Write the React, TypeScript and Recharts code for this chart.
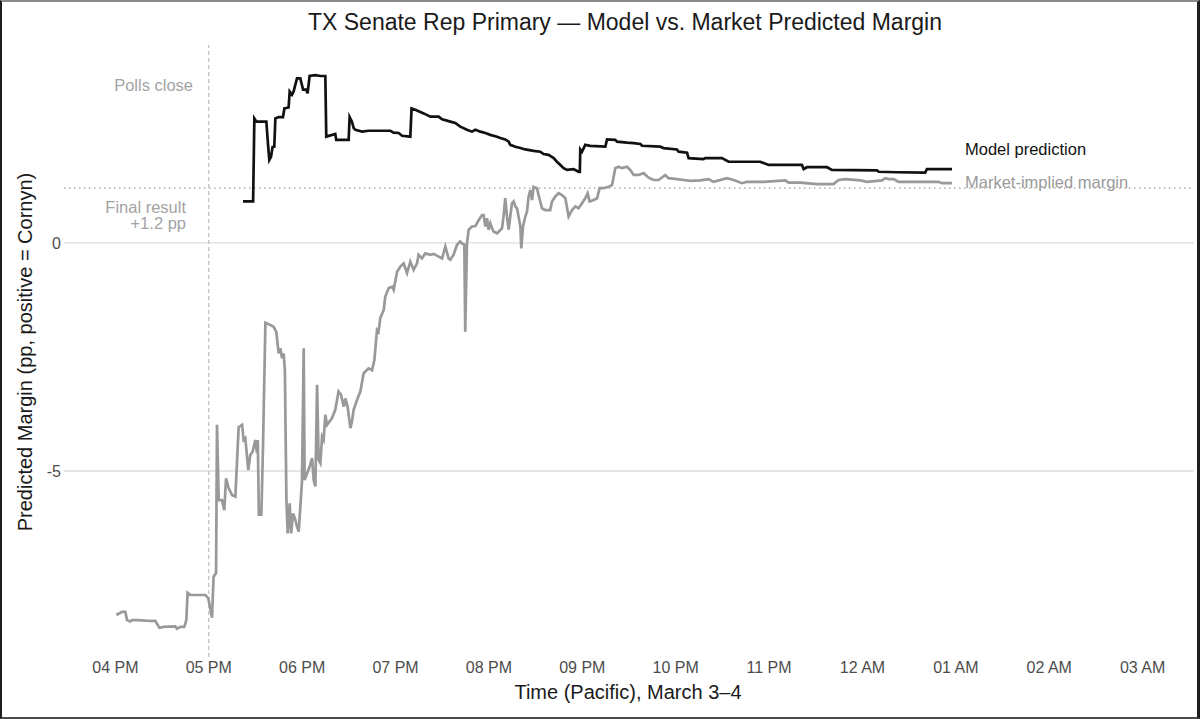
import React from "react";
import { LineChart, Line, XAxis, YAxis, ReferenceLine } from "recharts";

const FONT = "'Liberation Sans', Arial, Helvetica, sans-serif";

// x: minutes after 4:00 PM Pacific (March 3)
const hourTicks = [0, 60, 120, 180, 240, 300, 360, 420, 480, 540, 600, 660];
const hourLabels = ["04 PM", "05 PM", "06 PM", "07 PM", "08 PM", "09 PM", "10 PM", "11 PM", "12 AM", "01 AM", "02 AM", "03 AM"];
const xDomain = [-33, 693];

const yTicks = [-5, 0];
const yTickLabels = ["-5", "0"];
const yDomain = [-9.08, 4.34];

const pollsCloseMinute = 60;
const finalResult = 1.2;

const marketTime = [
  0.6, 4.3, 6.4, 7.5, 9.6, 10.7, 14.8, 22.5, 25.7, 28.3, 30.8, 38.5, 39.6, 41.8, 44.3, 45.6, 46.4, 48.2, 57.8, 59.7,
  62.1, 63.1, 64.7, 65.3, 66.4, 68.5, 70.0, 71.1, 72.8, 75.0, 77.1, 79.2, 81.4, 82.4, 83.5, 85.4, 86.7, 88.2, 89.9, 91.0,
  91.5, 92.2, 93.8, 94.9, 96.4, 98.5, 101.7, 103.4, 104.9, 106.0, 107.1, 108.1, 108.9, 109.9, 110.7, 112.0, 112.9, 114.2, 115.6, 116.7,
  117.8, 119.9, 121.0, 121.6, 123.2, 124.8, 126.4, 127.4, 128.5, 129.6, 130.6, 131.7, 132.8, 133.8, 134.9, 136.0, 139.2, 141.3, 143.4, 145.0,
  146.7, 147.8, 149.2, 151.0, 152.0, 153.1, 155.3, 157.4, 159.5, 160.6, 162.7, 164.9, 166.4, 168.1, 169.1, 170.2, 172.4, 173.4, 175.6, 177.8,
  178.8, 181.0, 183.1, 185.2, 187.4, 189.5, 191.6, 193.8, 194.8, 197.0, 199.1, 202.4, 204.5, 207.7, 209.9, 212.0, 214.1, 215.2, 217.3, 219.5,
  221.6, 222.7, 224.2, 224.8, 225.9, 227.0, 229.1, 231.3, 233.4, 235.6, 236.6, 237.7, 238.8, 239.8, 240.9, 242.0, 243.0, 245.2, 248.4, 249.4,
  250.5, 251.6, 252.7, 253.7, 254.8, 255.9, 257.0, 258.1, 260.2, 260.8, 261.9, 263.4, 264.5, 265.5, 266.6, 267.7, 268.7, 270.9, 271.9, 274.1,
  276.2, 279.4, 280.5, 282.7, 284.8, 287.0, 289.1, 291.2, 293.4, 295.5, 297.6, 299.8, 301.9, 303.4, 304.7, 307.3, 309.5, 311.1, 313.7, 316.9,
  319.1, 321.2, 323.3, 325.5, 328.7, 330.8, 333.0, 336.2, 339.4, 342.6, 345.8, 349.0, 353.3, 355.4, 360.8, 365.1, 369.4, 375.8, 381.1, 384.3,
  392.9, 397.2, 402.6, 405.8, 416.5, 430.4, 432.5, 440.0, 450.8, 461.4, 464.6, 468.9, 478.6, 482.9, 492.5, 494.7, 496.8, 500.0, 503.2, 528.9,
  531.1, 537.5,
];
const marketMargin = [
  -8.16, -8.09, -8.09, -8.27, -8.30, -8.27, -8.27, -8.29, -8.29, -8.44, -8.42, -8.41, -8.46, -8.42, -8.42, -8.27, -7.67, -7.72, -7.72, -7.79,
  -8.22, -7.32, -7.24, -3.99, -5.64, -5.64, -5.86, -5.16, -5.38, -5.53, -5.56, -4.04, -3.99, -4.32, -4.28, -4.98, -4.65, -4.58, -4.32, -4.61,
  -4.32, -5.96, -5.96, -4.39, -1.75, -1.78, -1.84, -1.95, -2.42, -2.31, -2.53, -2.42, -2.79, -5.64, -6.37, -5.71, -6.37, -5.93, -6.07, -6.22,
  -6.33, -5.23, -2.31, -5.20, -5.05, -4.91, -4.72, -5.20, -5.34, -3.11, -4.76, -4.83, -4.25, -4.32, -3.77, -3.99, -3.84, -3.66, -3.26, -3.33,
  -3.59, -3.41, -3.59, -4.06, -3.92, -3.66, -3.44, -3.26, -2.86, -2.82, -2.75, -2.79, -2.57, -1.91, -1.95, -1.65, -1.47, -1.18, -0.99, -0.96,
  -1.03, -0.63, -0.52, -0.45, -0.66, -0.41, -0.59, -0.45, -0.26, -0.34, -0.23, -0.26, -0.24, -0.30, -0.34, -0.08, -0.34, -0.37, -0.26, -0.04,
  0.03, -0.01, -0.04, -1.95, -0.01, 0.29, 0.36, 0.37, 0.50, 0.61, 0.61, 0.36, 0.54, 0.29, 0.43, 0.32, 0.25, 0.21, 0.32, 0.58,
  0.98, 0.58, 0.29, 0.58, 0.87, 0.91, 0.80, 0.76, 0.36, -0.12, 0.36, 0.58, 0.69, 1.02, 1.16, 0.94, 1.23, 1.20, 1.05, 0.76,
  0.72, 0.72, 0.91, 1.02, 1.09, 1.05, 0.98, 0.58, 0.72, 0.80, 0.76, 0.87, 0.98, 1.09, 0.91, 0.94, 0.98, 1.20, 1.20, 1.23,
  1.27, 1.64, 1.67, 1.64, 1.67, 1.60, 1.49, 1.49, 1.53, 1.43, 1.38, 1.38, 1.49, 1.42, 1.40, 1.38, 1.36, 1.37, 1.40, 1.34,
  1.42, 1.38, 1.31, 1.34, 1.34, 1.37, 1.32, 1.32, 1.29, 1.29, 1.38, 1.40, 1.37, 1.34, 1.37, 1.42, 1.40, 1.40, 1.34, 1.34,
  1.31, 1.31,
];

const modelTime = [
  82.0, 88.5, 89.3, 90.6, 97.0, 98.1, 98.9, 100.0, 101.0, 102.1, 102.8, 104.9, 107.7, 108.6, 111.3, 112.0, 113.5, 114.5, 116.7, 118.8,
  120.6, 122.7, 123.5, 124.8, 128.5, 131.7, 134.9, 135.5, 141.3, 141.9, 149.9, 150.5, 152.0, 153.1, 154.2, 158.5, 162.7, 176.7, 178.8, 182.0,
  184.2, 189.5, 190.3, 192.7, 198.1, 202.4, 207.7, 209.9, 215.2, 218.4, 221.6, 225.9, 229.1, 231.3, 234.5, 237.7, 240.9, 245.2, 247.3, 250.5,
  252.7, 253.7, 257.0, 260.2, 263.4, 268.7, 273.0, 275.1, 278.3, 281.6, 283.7, 285.9, 288.0, 290.2, 294.4, 297.6, 298.4, 298.7, 299.8, 301.9,
  305.1, 314.8, 315.9, 321.2, 322.3, 328.7, 333.0, 337.3, 338.4, 350.1, 352.2, 360.8, 361.9, 367.3, 368.3, 377.9, 379.0, 389.7, 394.0, 414.3,
  419.7, 441.1, 442.2, 444.3, 457.2, 460.4, 489.3, 490.4, 502.2, 520.3, 521.4, 537.5,
];
const modelMargin = [
  0.91, 0.91, 2.73, 2.66, 2.66, 2.15, 1.82, 1.89, 2.10, 2.11, 2.73, 2.76, 2.76, 2.95, 2.97, 3.32, 3.25, 3.32, 3.61, 3.61,
  3.36, 3.36, 3.28, 3.66, 3.68, 3.66, 3.66, 2.33, 2.39, 2.26, 2.26, 2.76, 2.66, 2.52, 2.48, 2.44, 2.46, 2.46, 2.42, 2.41,
  2.35, 2.33, 2.95, 2.92, 2.84, 2.77, 2.77, 2.71, 2.66, 2.63, 2.55, 2.48, 2.44, 2.48, 2.44, 2.41, 2.37, 2.33, 2.30, 2.27,
  2.22, 2.15, 2.11, 2.08, 2.05, 2.02, 2.00, 1.95, 1.93, 1.86, 1.78, 1.71, 1.64, 1.60, 1.62, 1.56, 1.56, 2.05, 2.00, 2.15,
  2.13, 2.11, 2.27, 2.26, 2.22, 2.20, 2.19, 2.17, 2.13, 2.11, 2.08, 2.05, 2.00, 1.98, 1.86, 1.84, 1.86, 1.86, 1.78, 1.78,
  1.71, 1.71, 1.62, 1.66, 1.66, 1.60, 1.59, 1.56, 1.55, 1.54, 1.62, 1.62,
];

const marketData = marketTime.map((t, i) => ({ t, v: marketMargin[i] }));
const modelData = modelTime.map((t, i) => ({ t, v: modelMargin[i] }));

export default function App() {
  return (
    <div style={{ position: "absolute", left: 0, top: 0, width: 1200, height: 719, background: "#fff", fontFamily: FONT, overflow: "hidden" }}>
      <LineChart width={1200} height={719} margin={{ top: 45, right: 6, bottom: 32, left: 24 }}>
        <XAxis
          type="number"
          dataKey="t"
          domain={xDomain}
          ticks={hourTicks}
          interval={0}
          allowDataOverflow
          tickFormatter={(v: number) => hourLabels[hourTicks.indexOf(v)]}
          axisLine={false}
          tickLine={false}
          tickSize={0}
          tickMargin={5}
          height={30}
          tick={{ fill: "#4d4d4d", fontSize: 16, fontFamily: FONT }}
        />
        <YAxis
          type="number"
          domain={yDomain}
          ticks={yTicks}
          interval={0}
          allowDataOverflow
          tickFormatter={(v: number) => yTickLabels[yTicks.indexOf(v)]}
          axisLine={false}
          tickLine={false}
          tickSize={0}
          tickMargin={3}
          width={40}
          tick={{ fill: "#4d4d4d", fontSize: 16, fontFamily: FONT }}
        />
        {yTicks.map((v) => (
          <ReferenceLine key={`grid-${v}`} y={v} stroke="#dedede" strokeWidth={1.4} />
        ))}
        <ReferenceLine x={pollsCloseMinute} stroke="#bdbdbd" strokeDasharray="4 3" strokeWidth={1.2} />
        <ReferenceLine y={finalResult} stroke="#a0a0a0" strokeDasharray="1.5 3.5" strokeWidth={1.3} />
        <Line data={marketData} dataKey="v" type="linear" stroke="#999999" strokeWidth={2.7} dot={false} activeDot={false} isAnimationActive={false} />
        <Line data={modelData} dataKey="v" type="linear" stroke="#111111" strokeWidth={2.7} dot={false} activeDot={false} isAnimationActive={false} />
      </LineChart>
      <svg width={1200} height={719} style={{ position: "absolute", left: 0, top: 0, pointerEvents: "none" }}>
        <text x={625} y={30} textAnchor="middle" fontSize={23} fill="#1a1a1a" fontFamily={FONT}>
          TX Senate Rep Primary — Model vs. Market Predicted Margin
        </text>
        <text x={628} y={699} textAnchor="middle" fontSize={20} fill="#1a1a1a" fontFamily={FONT}>
          Time (Pacific), March 3–4
        </text>
        <text x={32} y={352} textAnchor="middle" fontSize={20} fill="#1a1a1a" fontFamily={FONT} transform="rotate(-90 32 352)">
          Predicted Margin (pp, positive = Cornyn)
        </text>
        <text x={193} y={91} textAnchor="end" fontSize={16.5} fill="#a3a3a3" fontFamily={FONT}>Polls close</text>
        <text x={186} y={212.5} textAnchor="end" fontSize={16.5} fill="#a3a3a3" fontFamily={FONT}>Final result</text>
        <text x={186} y={228.5} textAnchor="end" fontSize={16.5} fill="#a3a3a3" fontFamily={FONT}>+1.2 pp</text>
        <text x={965} y={155} textAnchor="start" fontSize={16.5} fill="#111111" fontFamily={FONT}>Model prediction</text>
        <text x={965} y={188} textAnchor="start" fontSize={16.5} fill="#9a9a9a" fontFamily={FONT}>Market-implied margin</text>
      </svg>
      <div
        style={{
          position: "absolute",
          left: 0,
          top: 0,
          width: 1200,
          height: 719,
          boxSizing: "border-box",
          borderTop: "2px solid #8a8a8a",
          borderLeft: "2px solid #1e1e1e",
          borderRight: "3px solid #1e1e1e",
          borderBottom: "2px solid #4a4a4a",
          pointerEvents: "none",
        }}
      />
    </div>
  );
}
